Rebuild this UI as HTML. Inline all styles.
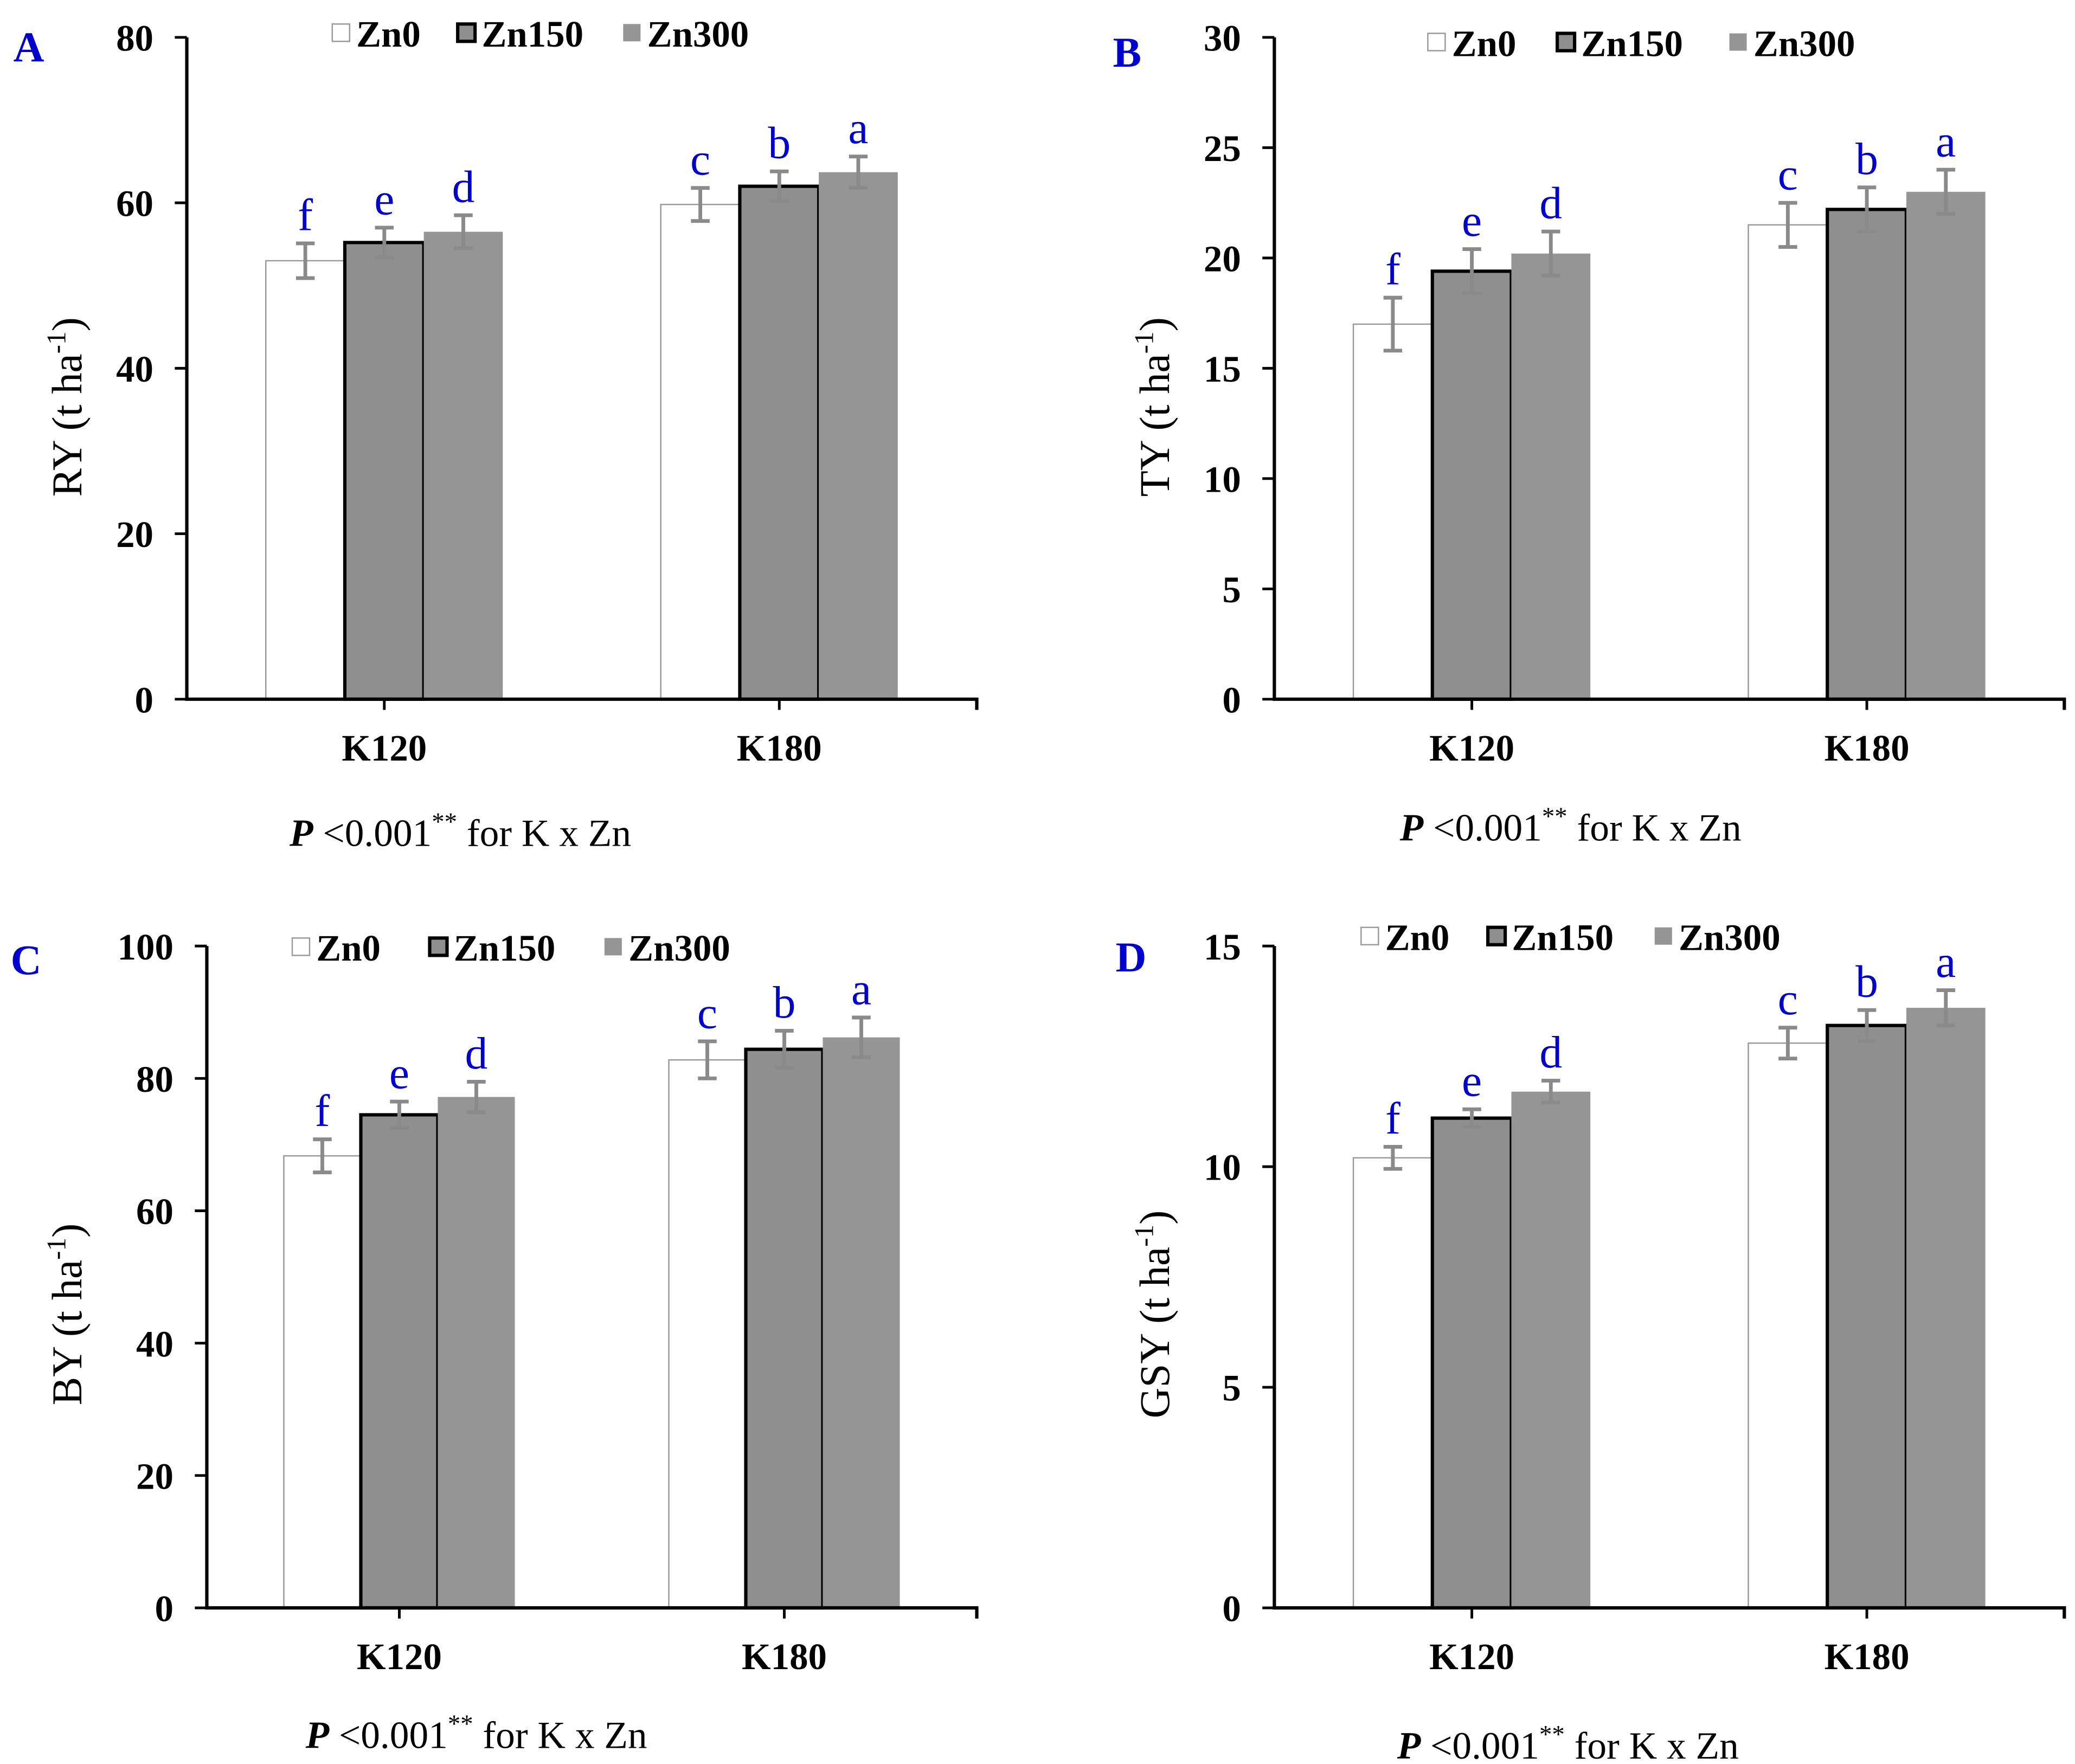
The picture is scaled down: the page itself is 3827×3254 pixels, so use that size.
<!DOCTYPE html>
<html><head><meta charset="utf-8"><style>html,body{margin:0;padding:0;background:#fff}svg{display:block}</style></head>
<body>
<svg id="fig" xmlns="http://www.w3.org/2000/svg" width="3827" height="3254" viewBox="0 0 1555 1322" preserveAspectRatio="none" font-family="Liberation Serif, serif"></svg>
<script>
const categories = ["K120", "K180"];
const seriesNames = ["Zn0", "Zn150", "Zn300"];
const letters = [["f","e","d"],["c","b","a"]];
const valuesA = [[53.0, 55.2, 56.5], [59.8, 62.0, 63.7]];
const errorsA = [[2.1, 1.8, 2.0], [2.0, 1.8, 1.9]];
const ticksA = [0, 20, 40, 60, 80];
const valuesB = [[17.0, 19.4, 20.2], [21.5, 22.2, 23.0]];
const errorsB = [[1.2, 1.0, 1.0], [1.0, 1.0, 1.0]];
const ticksB = [0, 5, 10, 15, 20, 25, 30];
const valuesC = [[68.3, 74.5, 77.2], [82.8, 84.4, 86.2]];
const errorsC = [[2.5, 2.0, 2.3], [2.8, 2.8, 3.0]];
const ticksC = [0, 20, 40, 60, 80, 100];
const valuesD = [[10.2, 11.1, 11.7], [12.8, 13.2, 13.6]];
const errorsD = [[0.25, 0.2, 0.25], [0.35, 0.35, 0.4]];
const ticksD = [0, 5, 10, 15];

const NS = "http://www.w3.org/2000/svg";
const svg = document.getElementById("fig");
function mk(tag, attrs, parent, text) {
  const e = document.createElementNS(NS, tag);
  for (const k in attrs) e.setAttribute(k, attrs[k]);
  if (text !== undefined) e.textContent = text;
  (parent || svg).appendChild(e);
  return e;
}
const panels = [
  {id:"a", label:"A", lx:10, ly:46, ax:140, top:28, bot:524, right:732, vals:valuesA, errs:errorsA, ticks:ticksA, ylab:"RY", ylx:61, yly:305, legY:25, leg:[249,343,467], py:634, px:217},
  {id:"b", label:"B", lx:834, ly:50, ax:955, top:28, bot:524, right:1547, vals:valuesB, errs:errorsB, ticks:ticksB, ylab:"TY", ylx:876, yly:305, legY:32, leg:[1070,1167,1296], py:630, px:1049},
  {id:"c", label:"C", lx:8, ly:730, ax:155, top:709, bot:1205, right:732, vals:valuesC, errs:errorsC, ticks:ticksC, ylab:"BY", ylx:61, yly:985, legY:710, leg:[219,322,453], py:1310, px:229},
  {id:"d", label:"D", lx:836, ly:728, ax:955, top:709, bot:1205, right:1547, vals:valuesD, errs:errorsD, ticks:ticksD, ylab:"GSY", ylx:876, yly:985, legY:702, leg:[1020,1115,1240], py:1318, px:1047}
];
panels.forEach(p => {
  const g = mk("g", {});
  
  
  const ymax = p.ticks[p.ticks.length-1];
  const y = v => p.bot - (v / ymax) * (p.bot - p.top);
  const cw = (p.right - p.ax) / categories.length;
  const cx = i => p.ax + cw * (i + 0.5);
  const bw = cw / 5;
  categories.forEach((c, ci) => {
    seriesNames.forEach((s, si) => {
      const v = p.vals[ci][si], e = p.errs[ci][si];
      const x0 = cx(ci) - 1.5*bw + si*bw;
      let attrs = {x:x0, y:y(v), width:bw, height:y(0)-y(v)};
      if (si===0) Object.assign(attrs,{fill:"#fff", stroke:"#999", "stroke-width":1});
      else if (si===1) Object.assign(attrs,{fill:"#8f8f8f", stroke:"#000", "stroke-width":2.5});
      else Object.assign(attrs,{fill:"#959595"});
      const r = mk("rect", attrs, g);
      
      
      const ex = x0 + bw/2;
      const eb = mk("path", {d:`M${ex},${y(v+e)}V${y(v-e)}M${ex-7},${y(v+e)}H${ex+7}M${ex-7},${y(v-e)}H${ex+7}`, stroke:"#8a8a8a", "stroke-width":2.8, fill:"none"}, g);
      
      
      const t = mk("text", {x:ex, y:y(v+e)-10, "text-anchor":"middle", "font-size":34, fill:"#0000cc"}, g, letters[ci][si]);
      
      
    });
    const tk = mk("line", {x1:cx(ci), x2:cx(ci), y1:p.bot, y2:p.bot+8, stroke:"#000", "stroke-width":2}, g);
    
    
    const xl = mk("text", {x:cx(ci), y:p.bot+46, "text-anchor":"middle", "font-size":28, "font-weight":"bold"}, g, c);
    
    
  });
  const axes = mk("path", {d:`M${p.ax},${p.top}V${p.bot}H${p.right}V${p.bot+8}`, stroke:"#000", "stroke-width":2.5, fill:"none"}, g);
  
  
  p.ticks.forEach(t => {
    const l = mk("line", {x1:p.ax-9, x2:p.ax, y1:y(t), y2:y(t), stroke:"#000", "stroke-width":2}, g);
    
    
    const tl = mk("text", {x:p.ax-25, y:y(t)+10, "text-anchor":"end", "font-size":28, "font-weight":"bold"}, g, String(t));
    
    
  });
  const yl = mk("text", {transform:`translate(${p.ylx},${p.yly}) rotate(-90)`, "text-anchor":"middle", "font-size":32}, g);
  
  
  mk("tspan", {}, yl, p.ylab + " (t ha");
  mk("tspan", {dy:-12, "font-size":20}, yl, "-1");
  mk("tspan", {dy:12}, yl, ")");
  const pl = mk("text", {x:p.lx, y:p.ly, "font-size":32, "font-weight":"bold", fill:"#0000cc"}, g, p.label);
  
  
  seriesNames.forEach((s, si) => {
    const lx = p.leg[si];
    let a = {x:lx, y:p.legY-7, width:13, height:13};
    if (si===0) Object.assign(a,{fill:"#fff", stroke:"#999", "stroke-width":1});
    else if (si===1) Object.assign(a,{fill:"#8f8f8f", stroke:"#000", "stroke-width":2.5});
    else Object.assign(a,{fill:"#959595"});
    const sw = mk("rect", a, g);
    
    
    const lt = mk("text", {x:lx+18, y:p.legY+10, "font-size":28, "font-weight":"bold"}, g, s);
    
    
  });
  const pt = mk("text", {x:p.px, y:p.py, "font-size":29}, g);
  
  
  mk("tspan", {"font-weight":"bold", "font-style":"italic"}, pt, "P");
  mk("tspan", {}, pt, " <0.001");
  mk("tspan", {dy:-12, "font-size":19}, pt, "**");
  mk("tspan", {dy:12}, pt, " for K x Zn");
});
</script>
</body></html>
